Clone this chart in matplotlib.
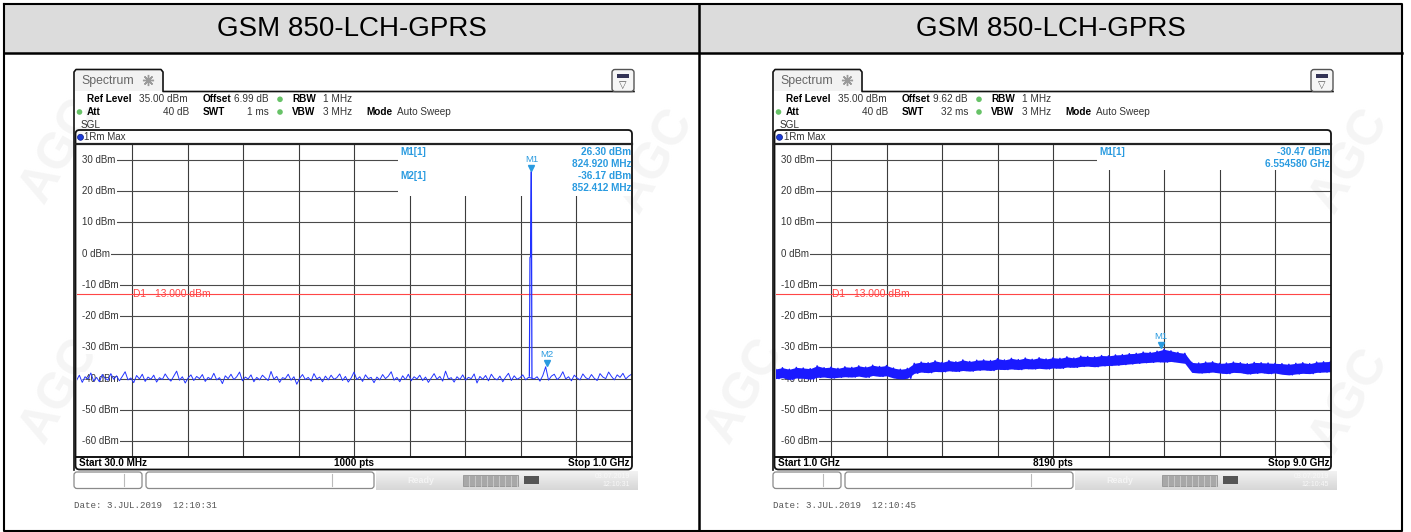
import numpy as np
import matplotlib.pyplot as plt
from matplotlib.patches import Rectangle, FancyBboxPatch, Circle
import matplotlib.transforms as mtransforms

W, H = 1411, 532

# ---- chart texts / settings ----
panel_titles = ["GSM 850-LCH-GPRS", "GSM 850-LCH-GPRS"]
ref_level = "35.00 dBm"
att = "40 dB"
rbw = "1 MHz"
vbw = "3 MHz"
offsets = ["6.99 dB", "9.62 dB"]
sweep_times = ["1 ms", "32 ms"]
start_labels = ["Start 30.0 MHz", "Start 1.0 GHz"]
pts_labels = ["1000 pts", "8190 pts"]
stop_labels = ["Stop 1.0 GHz", "Stop 9.0 GHz"]
date_labels = ["Date: 3.JUL.2019  12:10:31", "Date: 3.JUL.2019  12:10:45"]
clock_labels = ["12:10:31", "12:10:45"]
level_ticks = [30, 20, 10, 0, -10, -20, -30, -40, -50, -60]
d1_limit = -13.0

# ---- left trace: 30 MHz .. 1 GHz, read every 5 MHz ----
left_start, left_stop = 30, 1000
left_noise = [
    -40.6, -38.9, -41.2, -39.4, -40.1, -38.2, -40.8, -39.6, -41.0, -38.7, -39.9, -40.5, -38.4, -40.2, -39.1,
    -40.7, -39.3, -37.8, -40.4, -39.8, -41.3, -39.0, -40.1, -38.6, -40.9, -39.5, -40.2, -38.9, -41.1, -39.7,
    -40.3, -38.5, -39.9, -40.8, -39.2, -37.6, -40.5, -39.4, -41.4, -39.8, -38.8, -40.6, -39.3, -40.0, -38.7,
    -40.9, -39.6, -40.2, -38.3, -40.4, -39.7, -41.6, -39.1, -40.0, -38.6, -40.3, -39.4, -37.9, -40.7, -39.5,
    -40.1, -38.8, -41.0, -39.6, -40.4, -38.9, -39.8, -40.6, -37.7, -40.2, -39.3, -41.2, -39.7, -40.0, -38.6,
    -40.5, -39.4, -41.8, -39.9, -38.7, -40.3, -39.6, -40.8, -38.4, -40.1, -39.5, -41.0, -39.2, -40.4, -38.9,
    -40.2, -39.7, -38.5, -40.6, -39.3, -41.1, -39.8, -37.9, -40.3, -39.4, -40.9, -38.8, -40.0, -39.6, -41.3,
    -39.5, -40.4, -38.7, -40.0, -39.2, -37.8, -40.5, -39.6, -41.0, -39.1, -40.3, -38.6, -40.7, -39.4, -40.1,
    -38.9, -40.6, -39.5, -41.2, -39.8, -38.4, -40.2, -39.3, -40.8, -37.6, -40.1, -39.7, -41.1, -39.4, -40.3,
    -38.8, -40.5, -39.6, -40.0, -38.5, -41.4, -39.3, -40.2, -39.0, -40.7, -38.6, -39.9, -40.4, -39.2, -41.0,
    -39.5, -38.3, -40.6, -39.1, -40.2, -39.7, -38.8, -40.4, -39.6, -39.8, -40.1, -39.4, -40.8, -39.0, -36.2,
    -40.5, -39.2, -38.6, -40.3, -39.5, -37.8, -40.1, -39.4, -40.7, -38.9, -39.8, -40.4, -38.5, -39.7, -40.2,
    -38.7, -39.9, -40.6, -38.4, -39.5, -40.0, -37.9, -39.3, -40.4, -38.8, -39.6, -38.3, -40.1, -39.2, -38.6,
]
carrier_freq = [821.5, 822.6, 823.6, 824.92, 826.0]
carrier_level = [-39.2, -1.2, -1.0, 26.30, -39.8]
left_markers = [("M1", 824.920, 26.30), ("M2", 852.412, -36.17)]
left_marker_table = [("M1[1]", "26.30 dBm", "824.920 MHz"), ("M2[1]", "-36.17 dBm", "852.412 MHz")]

# ---- right trace: 1 GHz .. 9 GHz, band envelope every 0.1 GHz ----
right_start, right_stop = 1.0, 9.0
right_hi = [
    -36.9, -36.5, -37.0, -36.4, -36.6, -36.8, -35.9, -36.5, -36.3, -36.7,
    -36.2, -36.4, -35.9, -36.3, -35.7, -36.1, -35.8, -36.6, -37.0, -36.7,
    -35.1, -34.7, -34.9, -34.3, -34.8, -34.2, -34.6, -34.0, -34.5, -34.1,
    -34.0, -34.2, -33.6, -34.0, -33.5, -33.9, -33.4, -33.8, -33.3, -33.7,
    -33.3, -33.5, -33.0, -33.4, -32.8, -32.9, -33.0, -32.6, -32.7, -32.4,
    -32.3, -32.0, -31.9, -31.5, -31.6, -31.2, -30.6, -31.1, -31.6, -31.9,
    -34.8, -35.0, -34.7, -34.6, -35.1, -35.0, -34.7, -34.9, -35.2, -34.8,
    -34.9, -35.0, -35.1, -35.2, -35.4, -35.1, -34.9, -35.2, -34.7, -34.6, -34.5,
]
right_lo = [
    -40.0, -39.7, -40.3, -39.8, -39.9, -40.2, -39.6, -39.5, -39.8, -39.6,
    -39.4, -39.5, -39.2, -39.6, -39.0, -39.3, -39.1, -39.8, -40.1, -39.9,
    -38.3, -37.9, -38.1, -37.7, -37.8, -37.5, -37.7, -37.4, -37.6, -37.3,
    -37.2, -37.4, -37.0, -37.1, -36.9, -37.1, -36.8, -36.9, -36.7, -36.9,
    -36.6, -36.7, -36.3, -36.4, -36.1, -36.0, -36.2, -35.9, -35.8, -35.7,
    -35.5, -35.3, -35.1, -34.9, -34.8, -34.6, -34.7, -34.5, -34.8, -35.1,
    -38.0, -38.2, -38.1, -37.9, -38.2, -38.4, -38.0, -38.1, -38.5, -38.3,
    -38.1, -38.4, -38.2, -38.6, -38.8, -38.5, -38.3, -38.4, -38.0, -37.9, -37.8,
]
right_markers = [("M1", 6.554580, -30.47)]
right_marker_table = [("M1[1]", "-30.47 dBm", "6.554580 GHz")]

# faint lab watermark (pixel x, pixel y, rotation)
watermarks = [(60, 150, 60), (655, 160, 60), (745, 390, 60), (60, 390, 60),
              (1350, 160, 60), (1350, 400, 60)]

TRACE_BLUE = "#2233ff"
MARK_BLUE = "#2a9be0"
LIM_RED = "#ff4646"
FONT = "Liberation Sans"


def px_axes(fig, x0, y0, x1, y1):
    return fig.add_axes([x0 / W, 1 - y1 / H, (x1 - x0) / W, (y1 - y0) / H])


def txt(ov, x, y, s, bold=False, ha="left", color="#333333", size=7.2, family=FONT):
    ov.text(x, y, s, ha=ha, va="center", fontsize=size, family=family,
            fontweight="bold" if bold else "normal",
            color="#000000" if (bold and color == "#333333") else color, zorder=5)


fig = plt.figure(figsize=(W / 100, H / 100), dpi=100)

# background layer for watermark
bg = fig.add_axes([0, 0, 1, 1])
bg.set_xlim(0, W)
bg.set_ylim(H, 0)
bg.axis("off")
bg.set_zorder(0)
for wx, wy, rot in watermarks:
    bg.text(wx, wy, "AGC", ha="center", va="center", fontsize=36, fontweight="bold",
            family=FONT, color="#f5f5f5", rotation=rot)

ov = fig.add_axes([0, 0, 1, 1])
ov.set_xlim(0, W)
ov.set_ylim(H, 0)
ov.axis("off")
ov.set_zorder(3)
ov.patch.set_visible(False)

# ---- table frame ----
ov.add_patch(Rectangle((4, 4), 1398, 48.5, fc="#dcdcdc", ec="none", zorder=0))
ov.plot([4, 1402, 1402, 4, 4], [4, 4, 531, 531, 4], color="black", lw=1.5, zorder=4)
ov.plot([4, 1402], [52.5, 52.5], color="black", lw=1.8, zorder=4)
ov.plot([699, 699], [4, 531], color="black", lw=1.8, zorder=4)
for i, cx in enumerate([351.5, 1050.5]):
    ov.text(cx, 29, panel_titles[i], ha="center", va="center", fontsize=20, family=FONT, color="black")


def draw_panel(k, ox, f0, f1, trace_fn, markers, mtable, box_f, box_db):
    # ---- instrument header ----
    ov.plot([74 + ox, 74 + ox, 76 + ox, 161 + ox, 163 + ox, 163 + ox, 634 + ox],
            [470, 72, 69.5, 69.5, 72, 91.5, 91.5], color="#111111", lw=1.2, zorder=4)
    ov.add_patch(Rectangle((75 + ox, 70.5), 87, 20.5, fc="#f2f2f2", ec="none", zorder=1))
    txt(ov, 81 + ox, 81, "Spectrum", color="#666666", size=8.8)
    ov.plot([148 + ox], [80], marker=(8, 2, 0), ms=8, color="#9a9a9a", zorder=5)
    ov.add_patch(FancyBboxPatch((612 + ox, 69.5), 22, 22, boxstyle="round,pad=0,rounding_size=3",
                                fc="#f6f6f6", ec="#555555", lw=1, zorder=5))
    ov.add_patch(Rectangle((617 + ox, 74), 12, 4, fc="#333355", ec="none", zorder=6))
    ov.text(623 + ox, 85, "\u25bd", ha="center", va="center", fontsize=7, color="#555555", zorder=6)

    txt(ov, 87 + ox, 99.3, "Ref Level", bold=True)
    txt(ov, 188 + ox, 99.3, ref_level, ha="right")
    txt(ov, 203 + ox, 99.3, "Offset", bold=True)
    txt(ov, 269 + ox, 99.3, offsets[k], ha="right")
    txt(ov, 292 + ox, 99.3, "RBW", bold=True)
    txt(ov, 323 + ox, 99.3, rbw)
    txt(ov, 87 + ox, 112, "Att", bold=True)
    txt(ov, 189 + ox, 112, att, ha="right")
    txt(ov, 203 + ox, 112, "SWT", bold=True)
    txt(ov, 269 + ox, 112, sweep_times[k], ha="right")
    txt(ov, 292 + ox, 112, "VBW", bold=True)
    txt(ov, 323 + ox, 112, vbw)
    txt(ov, 366 + ox, 112, "Mode", bold=True)
    txt(ov, 397 + ox, 112, "Auto Sweep")
    txt(ov, 81 + ox, 125, "SGL")
    for (dx, dy) in [(280, 99.3), (79.5, 112), (280, 112)]:
        ov.add_patch(Circle((dx + ox, dy), 2.8, fc="#67c267", ec="none", zorder=6))

    # ---- diagram frame ----
    ov.add_patch(FancyBboxPatch((75.5 + ox, 130), 556.5, 339.5, boxstyle="round,pad=0,rounding_size=4",
                                fc="none", ec="#111111", lw=1.3, zorder=4))
    ov.plot([75.5 + ox, 632 + ox], [144, 144], color="#222222", lw=1.6, zorder=4)
    ov.plot([75.5 + ox, 632 + ox], [457, 457], color="#111111", lw=1.4, zorder=4)
    ov.add_patch(Circle((80.5 + ox, 137.3), 3, fc="#1a3ad8", ec="#0a1a80", lw=0.5, zorder=6))
    txt(ov, 84.5 + ox, 137.3, "1Rm Max", size=7)
    txt(ov, 79 + ox, 463.5, start_labels[k], bold=True, size=7.2)
    txt(ov, 354 + ox, 463.5, pts_labels[k], bold=True, size=7.2, ha="center")
    txt(ov, 630 + ox, 463.5, stop_labels[k], bold=True, size=7.2, ha="right")

    # marker table
    for j, (name, lvl, frq) in enumerate(mtable):
        yy = 152.3 + j * 24
        txt(ov, 400 + ox, yy, name, bold=True, color=MARK_BLUE, size=7.2)
        txt(ov, 631 + ox, yy, lvl, bold=True, color=MARK_BLUE, size=7.2, ha="right")
        txt(ov, 631 + ox, yy + 12, frq, bold=True, color=MARK_BLUE, size=7.2, ha="right")

    # ---- status bar ----
    ov.add_patch(FancyBboxPatch((74 + ox, 472), 68, 16.5, boxstyle="round,pad=0,rounding_size=3",
                                fc="white", ec="#8a8a8a", lw=0.9, zorder=4))
    ov.plot([124 + ox, 124 + ox], [474, 486], color="#bbbbbb", lw=0.8, zorder=5)
    ov.add_patch(FancyBboxPatch((146 + ox, 472), 228, 16.5, boxstyle="round,pad=0,rounding_size=3",
                                fc="white", ec="#8a8a8a", lw=0.9, zorder=4))
    ov.plot([332 + ox, 332 + ox], [474, 486], color="#bbbbbb", lw=0.8, zorder=5)
    grad = np.linspace(0.95, 0.84, 20).reshape(-1, 1)
    ov.imshow(grad, extent=[376 + ox, 638 + ox, 490, 471], aspect="auto", cmap="gray",
              vmin=0, vmax=1, zorder=2)
    ov.text(407 + ox, 480.5, "Ready", ha="left", va="center", fontsize=6.5, fontweight="bold",
            color="#f4f4f4", family=FONT, zorder=5)
    ov.add_patch(Rectangle((463 + ox, 475), 55, 11, fc="#a8a8a8", ec="#8a8a8a", lw=0.5, zorder=4))
    for sx in range(469, 518, 6):
        ov.plot([sx + ox, sx + ox], [475.5, 485.5], color="#c8c8c8", lw=0.7, zorder=5)
    ov.add_patch(Rectangle((524 + ox, 476), 15, 8, fc="#555555", ec="none", zorder=5))
    ov.text(630 + ox, 476.5, "03.07.2019", ha="right", va="center", fontsize=5, color="#f8f8f8",
            family=FONT, zorder=5)
    ov.text(630 + ox, 484.5, clock_labels[k], ha="right", va="center", fontsize=5, color="#f8f8f8",
            family=FONT, zorder=5)
    ov.text(74 + ox, 505, date_labels[k], ha="left", va="center", fontsize=6.6, color="#555555",
            family="Liberation Mono", zorder=5)

    # ---- plot area ----
    ax = px_axes(fig, 76.5 + ox, 144.4, 631.5 + ox, 456.7)
    ax.set_zorder(1)
    ax.patch.set_visible(False)
    ax.set_xlim(f0, f1)
    ax.set_ylim(-65, 35)
    ax.set_xticks([])
    ax.set_yticks([])
    for s in ax.spines.values():
        s.set_visible(False)
    step = (f1 - f0) / 10
    for i in range(1, 10):
        ax.axvline(f0 + i * step, color="#3c3c3c", lw=0.8, zorder=1)
    for lv in level_ticks:
        ax.axhline(lv, color="#4a4a4a", lw=0.8, zorder=1)
        ax.add_patch(Rectangle((0, lv - 1.5), 0.012, 3, transform=ax.get_yaxis_transform(),
                               fc="white", ec="none", zorder=1.8))
        ax.text(0.0095, lv, f"{lv} dBm", transform=ax.get_yaxis_transform(), ha="left", va="center",
                fontsize=7, family=FONT, color="#333333", zorder=2,
                bbox=dict(boxstyle="square,pad=0.15", fc="white", ec="none"))
    ax.add_patch(Rectangle((box_f, box_db), f1 - box_f, 35 - box_db, fc="white", ec="none", zorder=1.5))
    ax.axhline(d1_limit, color=LIM_RED, lw=0.8, zorder=2.5)
    ax.text((133 - 76.5) / 555, d1_limit, f"D1  {d1_limit:.3f} dBm", transform=ax.get_yaxis_transform(),
            ha="left", va="center", fontsize=7.4, family=FONT, color=LIM_RED, zorder=2.6)

    trace_fn(ax)

    up = mtransforms.offset_copy(ax.transData, fig=fig, y=4, units="dots")
    for name, mf, ml in markers:
        ax.plot([mf], [ml], marker="v", ms=5, color=MARK_BLUE, mec=MARK_BLUE, transform=up, zorder=6)
        ax.annotate(name, xy=(mf, ml), xytext=(0, 5.5), textcoords="offset points", ha="center",
                    va="bottom", fontsize=6.8, family=FONT, color=MARK_BLUE, zorder=6)
    return ax


def left_trace(ax):
    freq = np.arange(left_start, left_stop + 1, 5)
    ax.plot(freq, left_noise, color=TRACE_BLUE, lw=0.7, zorder=4)
    ax.plot(carrier_freq, carrier_level, color=TRACE_BLUE, lw=0.9, zorder=4)


def right_trace(ax):
    freq = np.linspace(right_start, right_stop, len(right_hi))
    ax.fill_between(freq, right_lo, right_hi, color="#1a1aff", lw=0, zorder=4)
    zx = np.column_stack([freq, freq + 0.05]).ravel()[:-1]
    zy = np.column_stack([right_hi, right_lo]).ravel()[:-1]
    ax.plot(zx, zy, color="#1a1aff", lw=1.0, zorder=4)


draw_panel(0, 0, left_start, left_stop, left_trace, left_markers, left_marker_table, 591.9, 18.5)
draw_panel(1, 699, right_start, right_stop, right_trace, right_markers, right_marker_table, 5.634, 26.8)

fig.savefig("out.png", dpi=100)
